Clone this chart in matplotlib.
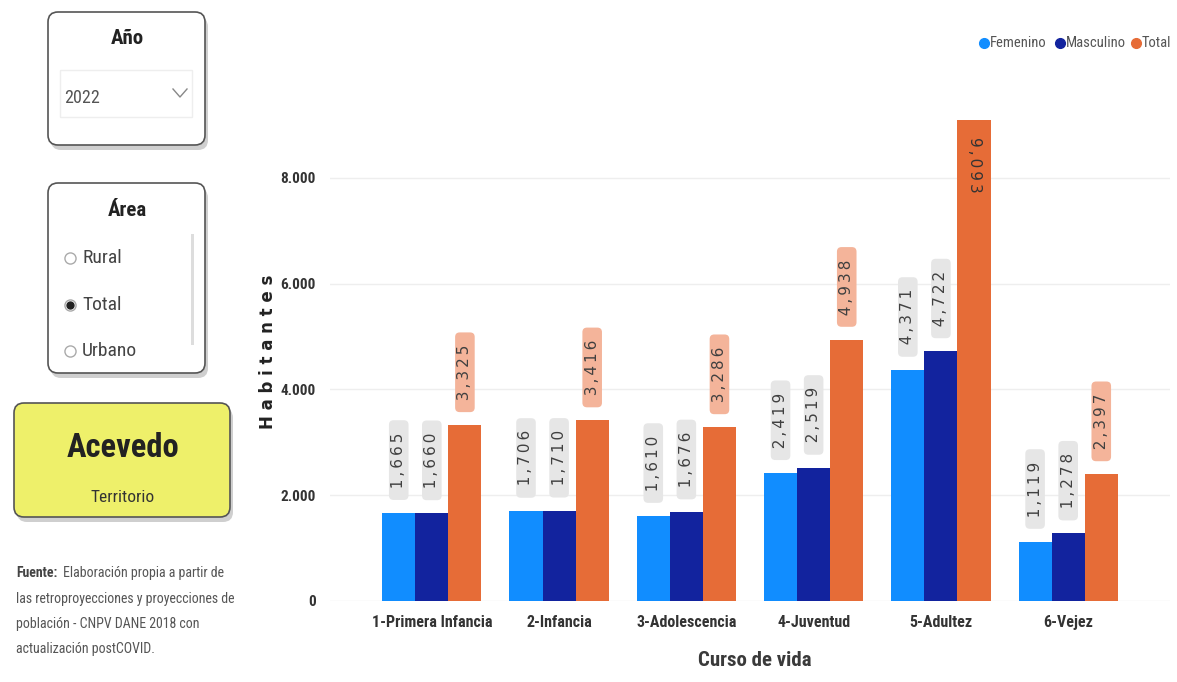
import numpy as np
import matplotlib.pyplot as plt
import matplotlib.font_manager as fm
from matplotlib.patches import FancyBboxPatch, Rectangle
from matplotlib.ticker import FuncFormatter

categories = ['1-Primera Infancia', '2-Infancia', '3-Adolescencia', '4-Juventud', '5-Adultez', '6-Vejez']
femenino = [1665, 1706, 1610, 2419, 4371, 1119]
masculino = [1660, 1710, 1676, 2519, 4722, 1278]
total = [3325, 3416, 3286, 4938, 9093, 2397]
series_names = ['Femenino', 'Masculino', 'Total']
yticks = [0, 2000, 4000, 6000, 8000]

colors = ['#118DFF', '#12239E', '#E66C37']
label_bg = ['#E6E6E6', '#E6E6E6', '#F4B49A']

# pick a narrow family that has a bold face
candidates = ['Roboto Condensed', 'Open Sans Condensed', 'Liberation Sans Narrow',
              'Archivo Narrow', 'Sofia Sans Condensed', 'Asap Condensed', 'Saira SemiCondensed']
faces = {}
for f in fm.fontManager.ttflist:
    faces.setdefault(f.name, set()).add(f.weight if isinstance(f.weight, int) else 400)
narrow = 'DejaVu Sans'
for c in candidates:
    if c in faces and max(faces[c]) >= 700:
        narrow = c
        break
else:
    for c in candidates:
        if c in faces:
            narrow = c
            break

plt.rcParams['font.family'] = [narrow, 'DejaVu Sans']

W, H = 1177, 682
fig = plt.figure(figsize=(W / 100, H / 100), dpi=100)
fig.patch.set_facecolor('white')

# pixel-space overlay for the side panel, legend and axis titles
pan = fig.add_axes([0, 0, 1, 1], zorder=0)
pan.set_xlim(0, W)
pan.set_ylim(H, 0)
pan.axis('off')


def spaced(v):
    return '\u2009'.join(f'{v:,}')


# ---- main chart ----
ax = fig.add_axes([330 / W, 1 - 601 / H, 840 / W, 529 / H], zorder=1)
ax.patch.set_alpha(0)
x = np.arange(len(categories))
bw = 0.26
ymax = 10000
for i, vals in enumerate([femenino, masculino, total]):
    pos = x + (i - 1) * bw
    ax.bar(pos, vals, width=bw, color=colors[i], zorder=3, label=series_names[i])
    for xp, v in zip(pos, vals):
        if v > 0.85 * ymax:
            # no room above: label goes inside the bar, reading downward
            ax.annotate(spaced(v), (xp, v), xytext=(0, -12), textcoords='offset points',
                        rotation=-90, ha='center', va='top', fontsize=11,
                        family='DejaVu Sans', color='#333333', zorder=4)
        else:
            ax.annotate('  ' + spaced(v) + '  ', (xp, v), xytext=(0, 11),
                        textcoords='offset points', rotation=90, ha='center',
                        va='bottom', fontsize=11, family='DejaVu Sans',
                        color='#404040', zorder=4,
                        bbox=dict(boxstyle='round,pad=0.15,rounding_size=0.3',
                                  fc=label_bg[i], ec='none'))

ax.set_xlim(-0.8, 5.8)
ax.set_ylim(0, ymax)
ax.set_yticks(yticks)
ax.yaxis.set_major_formatter(FuncFormatter(lambda v, p: f'{int(v):,}'.replace(',', '.')))
ax.grid(axis='y', color='#EEEEEE', linewidth=1, zorder=0)
for s in ax.spines.values():
    s.set_visible(False)
ax.tick_params(axis='both', length=0)
ax.tick_params(axis='y', pad=10)
ax.tick_params(axis='x', pad=10)
ax.set_xticks(x)
ax.set_xticklabels(categories, fontsize=11.5, fontweight='bold', color='#333333')
for t in ax.get_yticklabels():
    t.set_fontweight('bold')
    t.set_fontsize(11)
    t.set_color('#333333')

pan.text(755, 660, 'Curso de vida', fontsize=15, fontweight='bold', color='#3A3A3A',
         ha='center', va='center')
pan.text(268, 352, ' '.join('Habitantes'), fontsize=12, fontweight='bold',
         family='DejaVu Sans', color='#222222', rotation=90, ha='center', va='center')

# legend
lx = [984, 1060, 1136]
for i, name in enumerate(series_names):
    pan.plot(lx[i], 43, 'o', ms=7, color=colors[i])
    pan.text(lx[i] + 6, 43, name, fontsize=10.5, color='#555555', va='center')


# ---- left panel ----
def card(x0, y0, x1, y1, fc):
    pan.add_patch(FancyBboxPatch((x0 + 3, y0 + 5), x1 - x0, y1 - y0,
                                 boxstyle='round,pad=0,rounding_size=10',
                                 fc='#CFCFCF', ec='none'))
    pan.add_patch(FancyBboxPatch((x0, y0), x1 - x0, y1 - y0,
                                 boxstyle='round,pad=0,rounding_size=10',
                                 fc=fc, ec='#555555', lw=1.2))


card(48, 12, 205, 145, 'white')
pan.text(127, 38, 'Año', fontsize=15, fontweight='bold', color='#222222',
         ha='center', va='center')
pan.add_patch(Rectangle((60, 70), 132, 47, fc='white', ec='#EEEEEE', lw=1))
pan.text(64, 98, '2022', fontsize=13, color='#555555', va='center')
pan.plot([173, 180, 187], [89, 97, 89], color='#888888', lw=1)

card(48, 183, 205, 373, 'white')
pan.text(127, 210, 'Área', fontsize=15, fontweight='bold', color='#222222',
         ha='center', va='center')
pan.add_patch(Rectangle((191, 234), 3, 111, fc='#DDDDDD', ec='none'))
for yy, lab, sel in [(258, 'Rural', False), (305, 'Total', True), (351, 'Urbano', False)]:
    pan.plot(70, yy, 'o', ms=8, mfc='white', mec='#AAAAAA', mew=1)
    if sel:
        pan.plot(70, yy, 'o', ms=5, color='#222222')
    pan.text(82, yy, lab, fontsize=14, color='#444444', va='center')

card(14, 403, 230, 517, '#EEF06A')
pan.text(123, 448, 'Acevedo', fontsize=23.5, fontweight='bold', color='#222222',
         ha='center', va='center')
pan.text(123, 497, 'Territorio', fontsize=12.5, color='#333333',
         ha='center', va='center')

src_lines = ['Elaboración propia a partir de',
             'las retroproyecciones y proyecciones de',
             'población - CNPV DANE 2018 con',
             'actualización postCOVID.']
pan.text(16, 573, 'Fuente:', fontsize=10, fontweight='bold', color='#444444', va='center')
pan.text(63, 573, src_lines[0], fontsize=10, color='#555555', va='center')
for k, line in enumerate(src_lines[1:]):
    pan.text(16, 599 + 25 * k, line, fontsize=10, color='#555555', va='center')

fig.savefig('out.png', dpi=100)
